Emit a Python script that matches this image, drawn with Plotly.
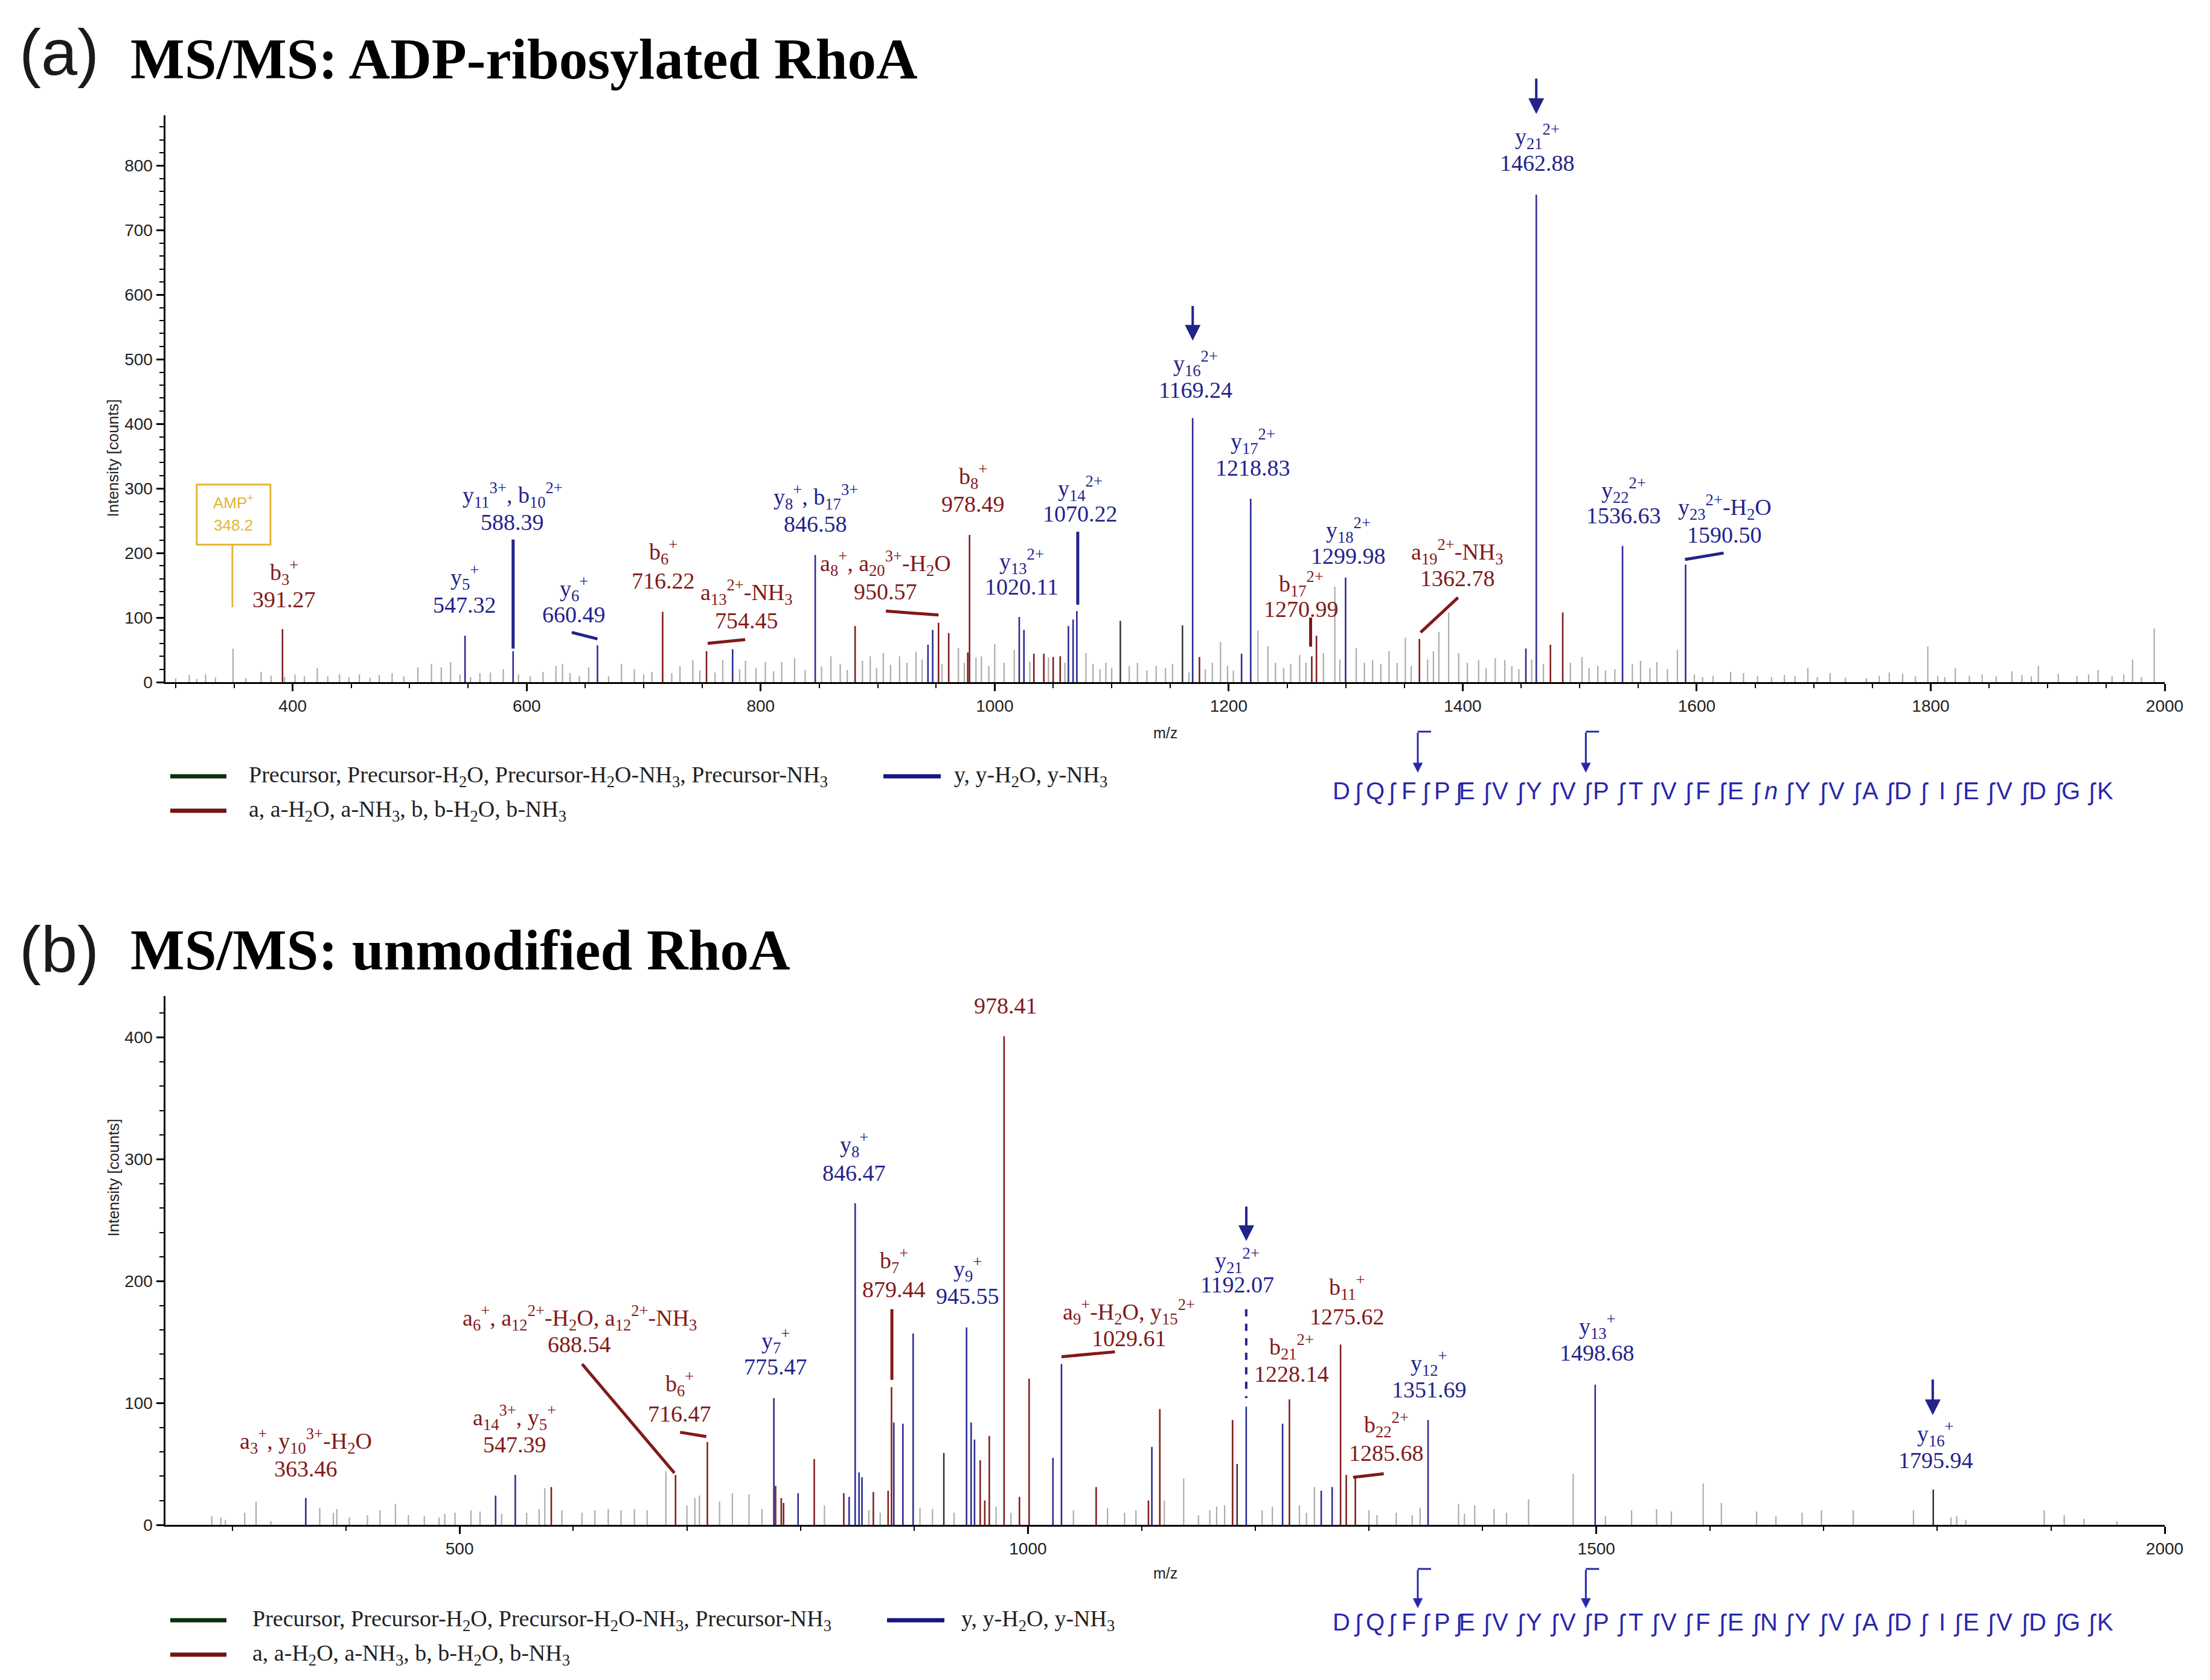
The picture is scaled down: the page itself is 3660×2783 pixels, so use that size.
import plotly.graph_objects as go

W, H = 3660, 2783
SERIF = "Liberation Serif, Times New Roman, serif"
SANS = "Liberation Sans, Arial, sans-serif"

BLUE_TXT = "rgb(35,35,140)"
RED_TXT = "rgb(130,25,25)"
BLUE_PK = "rgb(45,45,150)"
RED_PK = "rgb(130,30,30)"
GRAY_PK = "rgb(172,172,172)"
DARK_PK = "rgb(50,50,50)"
GOLD = "rgb(226,182,52)"
SEQ_BLUE = "rgb(40,40,170)"

# ---------------- Panel (a): ADP-ribosylated RhoA ----------------
a_gray_mz = [
    300, 311.6, 318, 325.6, 334, 349.0, 360, 373, 381.5, 393,
    402, 410, 421, 430, 440, 448, 457, 466, 474, 485,
    495, 507, 518.6, 527, 535, 543, 552, 560, 569, 580,
    593, 603, 614, 625, 630.6, 637, 645, 653, 670, 681,
    692, 700, 707, 724, 731, 742, 748, 761, 767.6, 782,
    787, 796, 804, 811, 818, 829, 838, 852, 860, 868,
    874, 887, 893.6, 899, 904.8, 911, 918.7, 925, 932.7, 938,
    955, 969, 974, 984, 988.7, 995, 1000, 1008, 1016.7, 1030,
    1046, 1060, 1078, 1084, 1090, 1095, 1100, 1115, 1122, 1130,
    1138, 1146, 1152, 1166, 1180, 1186, 1193, 1199, 1204, 1225,
    1233.5, 1240, 1247, 1253, 1260.7, 1266, 1281, 1290.7, 1295, 1309,
    1316, 1323, 1330, 1337, 1344, 1351, 1356, 1370, 1375, 1379.6,
    1388, 1396.6, 1404, 1413.6, 1420, 1427.8, 1436, 1442, 1448, 1459,
    1469, 1492, 1502, 1508, 1515.5, 1522, 1530, 1545, 1552, 1560,
    1566, 1575, 1583.5, 1598, 1605, 1614, 1629, 1640, 1652, 1664,
    1675, 1684, 1695, 1703, 1714, 1727, 1745, 1756, 1764.6, 1776,
    1787, 1797.5, 1806, 1812, 1821, 1833, 1844, 1856, 1869.4, 1878,
    1886, 1892, 1909, 1925, 1935, 1943, 1955, 1965, 1972.5, 1980,
    1991]
a_gray_int = [
    6, 11, 5, 12, 7, 52, 6, 16, 10, 8,
    12, 9, 22, 9, 12, 8, 12, 7, 11, 14,
    9, 23, 28, 23, 31, 12, 8, 14, 15, 20,
    12, 9, 16, 25, 28, 14, 10, 23, 9, 28,
    20, 12, 16, 14, 25, 34, 18, 15, 34, 20,
    33, 22, 31, 17, 31, 37, 19, 24, 40, 28,
    19, 33, 40, 22, 45, 27, 40, 30, 47, 35,
    28, 53, 30, 38, 40, 25, 59, 30, 50, 32,
    38, 30, 45, 28, 20, 30, 22, 25, 30, 18,
    25, 22, 28, 15, 20, 30, 62, 25, 18, 80,
    56, 30, 22, 28, 42, 30, 45, 148, 35, 53,
    30, 34, 28, 48, 30, 69, 25, 35, 48, 78,
    108, 45, 30, 34, 22, 37, 34, 25, 20, 35,
    28, 30, 39, 22, 25, 18, 20, 28, 33, 22,
    31, 20, 50, 12, 8, 10, 16, 14, 9, 8,
    11, 9, 22, 8, 14, 7, 6, 10, 15, 13,
    9, 55, 10, 8, 22, 10, 12, 9, 17, 11,
    9, 25, 13, 10, 12, 19, 9, 12, 35, 8,
    83]
a_blue_mz = [547.3, 588.4, 660.5, 776, 846.6, 943, 947, 1021, 1025, 1063,
             1067, 1070.2, 1169.2, 1211, 1218.8, 1299.9, 1454, 1462.9, 1536.6, 1590.5]
a_blue_int = [72, 48, 57, 51, 197, 58, 81, 101, 81, 87,
              97, 110, 409, 44, 284, 162, 52, 755, 211, 182]
a_red_mz = [391.3, 716.2, 753.7, 880.7, 952, 960.7, 977, 978.5, 1033.5, 1042,
            1050, 1056, 1175, 1271, 1275, 1363, 1475, 1485.5]
a_red_int = [82, 109, 48, 87, 92, 76, 46, 228, 44, 44,
             39, 40, 39, 40, 72, 67, 58, 108]
a_dark_mz = [1107.4, 1160.5]
a_dark_int = [95, 88]

a_ion = ["b<sub>3</sub><sup>+</sup>", "y<sub>5</sub><sup>+</sup>",
         "y<sub>11</sub><sup>3+</sup>, b<sub>10</sub><sup>2+</sup>", "y<sub>6</sub><sup>+</sup>",
         "b<sub>6</sub><sup>+</sup>", "a<sub>13</sub><sup>2+</sup>-NH<sub>3</sub>",
         "y<sub>8</sub><sup>+</sup>, b<sub>17</sub><sup>3+</sup>",
         "a<sub>8</sub><sup>+</sup>, a<sub>20</sub><sup>3+</sup>-H<sub>2</sub>O",
         "b<sub>8</sub><sup>+</sup>", "y<sub>13</sub><sup>2+</sup>", "y<sub>14</sub><sup>2+</sup>",
         "y<sub>16</sub><sup>2+</sup>", "y<sub>17</sub><sup>2+</sup>", "b<sub>17</sub><sup>2+</sup>",
         "y<sub>18</sub><sup>2+</sup>", "a<sub>19</sub><sup>2+</sup>-NH<sub>3</sub>",
         "y<sub>21</sub><sup>2+</sup>", "y<sub>22</sub><sup>2+</sup>",
         "y<sub>23</sub><sup>2+</sup>-H<sub>2</sub>O"]
a_val = ["391.27", "547.32", "588.39", "660.49", "716.22", "754.45", "846.58", "950.57",
         "978.49", "1020.11", "1070.22", "1169.24", "1218.83", "1270.99", "1299.98",
         "1362.78", "1462.88", "1536.63", "1590.50"]
a_kind = ["r", "b", "b", "b", "r", "r", "b", "r", "r", "b", "b", "b", "b", "r", "b", "r", "b", "b", "b"]
# label anchor placement (x, line-1 y, line-2 y)
a_lab_pos = [(392.7, 170, 128), (547, 163, 120), (588, 290, 248), (640.6, 145, 105),
             (717, 202, 157), (788, 139, 95), (847, 287, 245), (906.7, 184, 140),
             (981.5, 319, 276), (1023, 187, 148), (1073, 300, 261), (1171.5, 494, 453),
             (1220.6, 373, 332), (1262, 152, 113), (1302.5, 236, 195), (1395.6, 202, 161),
             (1464, 845, 804), (1537.8, 297, 258), (1624, 271, 228)]
a_leaders = [(588.4, 221, 588.4, 52, "b"), (638.5, 77, 660.5, 67, "b"),
             (754.7, 60, 786.7, 66, "r"), (907, 110, 952, 104, "r"),
             (1071, 233, 1071, 120, "b"), (1270, 100, 1270, 55, "r"),
             (1364, 77, 1396, 131, "r"), (1590, 190, 1623, 200, "b")]

# ---------------- Panel (b): unmodified RhoA ----------------
b_gray_mz = [
    282, 290, 294, 311, 321, 334, 377, 389, 392, 403,
    419, 430, 443.6, 455, 469, 482, 487, 496, 510, 518,
    537, 559, 570, 575, 590, 607.7, 619, 630.8, 642, 653.8,
    665, 681.5, 700, 707, 711, 728.7, 740, 754.6, 766, 821,
    860, 870, 905, 916, 935, 972, 985, 1040, 1070, 1085,
    1095, 1120, 1137, 1150, 1160, 1166, 1173, 1206, 1215, 1238.8,
    1245, 1252, 1300, 1307, 1324, 1338, 1345, 1378.8, 1384, 1393,
    1410, 1421, 1440.4, 1479.6, 1508, 1531, 1553, 1566, 1594, 1610,
    1641, 1658, 1681, 1698, 1726, 1779, 1812, 1817, 1825, 1894,
    1911.6, 1929, 1958]
b_gray_int = [
    7, 6, 4, 10, 19, 3, 14, 10, 13, 6,
    8, 12, 17, 8, 7, 6, 9, 10, 12, 11,
    9, 10, 13, 30, 12, 10, 12, 13, 12, 13,
    12, 44, 16, 22, 24, 19, 26, 25, 13, 16,
    12, 10, 14, 13, 10, 15, 10, 12, 14, 10,
    12, 20, 38, 8, 12, 15, 16, 12, 15, 16,
    10, 31, 12, 8, 10, 8, 14, 17, 9, 16,
    13, 10, 21, 42, 7, 12, 13, 11, 34, 18,
    11, 7, 10, 12, 12, 12, 6, 7, 4, 12,
    8, 5, 3]
b_blue_mz = [364.7, 531.7, 549, 776.5, 797.8, 842.7, 848, 851.4, 854, 882,
             890, 899, 946, 950, 953, 1022, 1029.5, 1109, 1192, 1224,
             1258, 1267.6, 1352, 1499]
b_blue_int = [22, 24, 41, 104, 26, 23, 264, 43, 39, 84,
              83, 157, 162, 84, 70, 55, 132, 64, 97, 83,
              28, 31, 86, 115]
b_red_mz = [580.7, 690, 718, 778, 783, 785, 812, 838, 864, 877,
            880, 958, 962, 966, 979, 992.5, 1001, 1060, 1106, 1116,
            1180, 1230, 1275, 1280, 1288]
b_red_int = [31, 41, 68, 32, 22, 18, 54, 26, 27, 28,
             113, 53, 20, 73, 401, 23, 120, 31, 20, 95,
             86, 103, 148, 41, 39]
b_dark_mz = [926, 1184, 1796.4]
b_dark_int = [59, 50, 29]

b_ion = ["a<sub>3</sub><sup>+</sup>, y<sub>10</sub><sup>3+</sup>-H<sub>2</sub>O",
         "a<sub>14</sub><sup>3+</sup>, y<sub>5</sub><sup>+</sup>",
         "a<sub>6</sub><sup>+</sup>, a<sub>12</sub><sup>2+</sup>-H<sub>2</sub>O, a<sub>12</sub><sup>2+</sup>-NH<sub>3</sub>",
         "b<sub>6</sub><sup>+</sup>", "y<sub>7</sub><sup>+</sup>", "y<sub>8</sub><sup>+</sup>",
         "b<sub>7</sub><sup>+</sup>", "y<sub>9</sub><sup>+</sup>", "",
         "a<sub>9</sub><sup>+</sup>-H<sub>2</sub>O, y<sub>15</sub><sup>2+</sup>",
         "y<sub>21</sub><sup>2+</sup>", "b<sub>21</sub><sup>2+</sup>", "b<sub>11</sub><sup>+</sup>",
         "b<sub>22</sub><sup>2+</sup>", "y<sub>12</sub><sup>+</sup>", "y<sub>13</sub><sup>+</sup>",
         "y<sub>16</sub><sup>+</sup>"]
b_val = ["363.46", "547.39", "688.54", "716.47", "775.47", "846.47", "879.44", "945.55",
         "978.41", "1029.61", "1192.07", "1228.14", "1275.62", "1285.68", "1351.69",
         "1498.68", "1795.94"]
b_kind = ["r", "r", "r", "r", "b", "b", "r", "b", "r", "r", "b", "r", "r", "r", "b", "b", "b"]
b_lab_pos = [(364.5, 69, 46), (548.4, 88, 66), (605.6, 170, 148), (693.6, 116, 91),
             (777.8, 151, 130), (846.9, 312, 289), (882, 217, 193), (946.8, 210, 188),
             (980.2, None, 426), (1088.9, 175, 153), (1184, 217, 197), (1232, 146, 124),
             (1281, 195, 171), (1315.4, 82, 59), (1352.8, 133, 111), (1500.9, 163, 141),
             (1798.6, 75, 53)]
b_leaders = [(607.8, 132, 689, 42.5, "r"), (694, 76, 717, 72.5, "r"),
             (880.3, 177, 880.3, 119, "r"), (1029.5, 138, 1076.5, 142, "r"),
             (1192, 177, 1192, 104, "bd"), (1286, 39, 1313, 42, "r")]

SEQ_A = ["D", "Q", "F", "P", "E", "V", "Y", "V", "P", "T", "V", "F", "E", "<i>n</i>",
         "Y", "V", "A", "D", "I", "E", "V", "D", "G", "K"]
SEQ_B = ["D", "Q", "F", "P", "E", "V", "Y", "V", "P", "T", "V", "F", "E", "N",
         "Y", "V", "A", "D", "I", "E", "V", "D", "G", "K"]
CLEAVE_ARROWS = [3, 8]

LEG_PREC = "Precursor, Precursor-H<sub>2</sub>O, Precursor-H<sub>2</sub>O-NH<sub>3</sub>, Precursor-NH<sub>3</sub>"
LEG_Y = "y, y-H<sub>2</sub>O, y-NH<sub>3</sub>"
LEG_AB = "a, a-H<sub>2</sub>O, a-NH<sub>3</sub>, b, b-H<sub>2</sub>O, b-NH<sub>3</sub>"

# ---------------- layout geometry ----------------
XD = [273.5 / W, 3585 / W]
YA = [1 - 1130 / H, 1 - 191 / H]
YB = [1 - 2526 / H, 1 - 1650 / H]
XR_A, XR_B = [291, 2000], [241, 2000]
YR_A, YR_B = [0, 878], [0, 434]
LABEL_SIZE = 38


def px(p):
    return p / W


def py(p):
    return 1 - p / H


def stems(mz, inten):
    xs, ys = [], []
    for m, v in zip(mz, inten):
        xs += [m, m, None]
        ys += [0, v, None]
    return xs, ys


fig = go.Figure()
for xa, ya, groups in [
    ("x", "y", [(a_gray_mz, a_gray_int, GRAY_PK, 2.2), (a_dark_mz, a_dark_int, DARK_PK, 2.5),
                (a_red_mz, a_red_int, RED_PK, 2.6), (a_blue_mz, a_blue_int, BLUE_PK, 2.6)]),
    ("x2", "y2", [(b_gray_mz, b_gray_int, GRAY_PK, 2.2), (b_dark_mz, b_dark_int, DARK_PK, 2.5),
                  (b_red_mz, b_red_int, RED_PK, 2.6), (b_blue_mz, b_blue_int, BLUE_PK, 2.6)]),
]:
    for mz, it, col, wd in groups:
        xs, ys = stems(mz, it)
        fig.add_trace(go.Scatter(x=xs, y=ys, mode="lines", line=dict(color=col, width=wd),
                                 xaxis=xa, yaxis=ya, hoverinfo="skip", showlegend=False))

annotations = []
shapes = []


def label(xref, yref, x, y, text, color):
    annotations.append(dict(x=x, y=y, xref=xref, yref=yref, text=text, showarrow=False,
                            xanchor="center", yanchor="middle",
                            font=dict(family=SERIF, size=LABEL_SIZE, color=color)))


for ions, vals, kinds, pos, xr, yr in [(a_ion, a_val, a_kind, a_lab_pos, "x", "y"),
                                       (b_ion, b_val, b_kind, b_lab_pos, "x2", "y2")]:
    for ion, val, k, (x, y1, y2) in zip(ions, vals, kinds, pos):
        col = BLUE_TXT if k == "b" else RED_TXT
        if ion and y1 is not None:
            label(xr, yr, x, y1, ion, col)
        label(xr, yr, x, y2, val, col)

for leaders, xr, yr in [(a_leaders, "x", "y"), (b_leaders, "x2", "y2")]:
    for x0, y0, x1, y1, k in leaders:
        col = BLUE_TXT if k.startswith("b") else RED_TXT
        shapes.append(dict(type="line", xref=xr, yref=yr, x0=x0, y0=y0, x1=x1, y1=y1,
                           line=dict(color=col, width=5 if k != "bd" else 4,
                                     dash="dash" if k == "bd" else "solid")))

# AMP box (panel a)
shapes.append(dict(type="rect", xref="x", yref="y", x0=318, x1=381, y0=213, y1=306,
                   line=dict(color=GOLD, width=3), fillcolor="white"))
shapes.append(dict(type="line", xref="x", yref="y", x0=348.5, x1=348.5, y0=213, y1=116,
                   line=dict(color=GOLD, width=3)))
annotations.append(dict(x=349.5, y=279, xref="x", yref="y", text="AMP<sup>+</sup>", showarrow=False,
                        font=dict(family=SANS, size=26, color=GOLD)))
annotations.append(dict(x=349.5, y=243, xref="x", yref="y", text="348.2", showarrow=False,
                        font=dict(family=SANS, size=26, color=GOLD)))


def arrow(xref, yref, x, y_tip, y_tail):
    annotations.append(dict(x=x, y=y_tip, ax=x, ay=y_tail, xref=xref, yref=yref, axref=xref,
                            ayref=yref, text="", showarrow=True, arrowhead=2, arrowsize=1.3,
                            arrowwidth=4, arrowcolor=BLUE_TXT, standoff=0))


arrow("x", "y", 1169.24, 529, 584)
arrow("x2", "y2", 1192.07, 233, 262)
arrow("x2", "y2", 1795.94, 90, 120)
# arrow above the top of panel (a)
tip_a = YA[0] + 880 / YR_A[1] * (YA[1] - YA[0])
annotations.append(dict(x=1462.88, y=tip_a, xref="x", yref="paper", ax=0, ay=-60,
                        axref="pixel", ayref="pixel", text="", showarrow=True, arrowhead=2,
                        arrowsize=1.3, arrowwidth=4, arrowcolor=BLUE_TXT, standoff=0))

# titles
for ttl, sub, ymid_par, ymid_t in [("(a)", "MS/MS: ADP-ribosylated RhoA", 86, 98),
                                   ("(b)", "MS/MS: unmodified RhoA", 1572, 1574)]:
    annotations.append(dict(x=px(30), y=py(ymid_par), xref="paper", yref="paper", text=ttl,
                            showarrow=False, xanchor="left", yanchor="middle",
                            font=dict(family=SANS, size=108, color="#1a1a1a")))
    annotations.append(dict(x=px(214), y=py(ymid_t), xref="paper", yref="paper",
                            text="<b>" + sub + "</b>", showarrow=False, xanchor="left",
                            yanchor="middle", font=dict(family=SERIF, size=95, color="black")))

# axis titles
for yc in (660, 2051):
    annotations.append(dict(x=px(170), y=py(yc), xref="paper", yref="paper",
                            text="Intensity [counts]", textangle=-90, showarrow=False,
                            font=dict(family=SANS, size=26, color="#222")))
for yc in (1214, 2622):
    annotations.append(dict(x=px(1930), y=py(yc), xref="paper", yref="paper", text="m/z",
                            showarrow=False, font=dict(family=SANS, size=25, color="#222")))

# legends
for y1, y2, tx1, tx2 in [(1286, 1343, 410, 1578), (2684, 2741, 416, 1590)]:
    for (x0, x1, yy, col) in [(282, 375, y1, "rgb(12,48,12)"), (tx1 + 1053, tx1 + 1148, y1, "rgb(22,22,130)"),
                              (282, 375, y2, "rgb(118,18,18)")]:
        shapes.append(dict(type="line", xref="paper", yref="paper", x0=px(x0), x1=px(x1),
                           y0=py(yy), y1=py(yy), line=dict(color=col, width=7)))
    for txt, xx, yy in [(LEG_PREC, tx1, y1), (LEG_Y, tx2, y1), (LEG_AB, tx1, y2)]:
        annotations.append(dict(x=px(xx), y=py(yy), xref="paper", yref="paper", text=txt,
                                showarrow=False, xanchor="left", yanchor="middle",
                                font=dict(family=SERIF, size=38, color="#222")))

# peptide sequences with cleavage marks
SEQ_L, SEQ_R = 2194, 3530
step = (SEQ_R - SEQ_L) / 24
for seq, yc, ytop, ybot in [(SEQ_A, 1310, 1212, 1280), (SEQ_B, 2711, 2599, 2664)]:
    for i, r in enumerate(seq):
        annotations.append(dict(x=px(SEQ_L + (i + 0.5) * step), y=py(yc), xref="paper",
                                yref="paper", text=r, showarrow=False,
                                font=dict(family=SANS, size=40, color=SEQ_BLUE)))
        if i < len(seq) - 1:
            annotations.append(dict(x=px(SEQ_L + (i + 1) * step), y=py(yc + 2), xref="paper",
                                    yref="paper", text="ʃ", showarrow=False,
                                    font=dict(family=SANS, size=40, color=SEQ_BLUE)))
    for k in CLEAVE_ARROWS:
        xa_ = SEQ_L + k * step - 13
        annotations.append(dict(x=px(xa_), y=py(ybot), xref="paper", yref="paper", ax=0,
                                ay=-(ybot - ytop), axref="pixel", ayref="pixel", text="",
                                showarrow=True, arrowhead=2, arrowsize=1.1, arrowwidth=3,
                                arrowcolor=SEQ_BLUE, standoff=0))
        shapes.append(dict(type="line", xref="paper", yref="paper", x0=px(xa_), x1=px(xa_ + 22),
                           y0=py(ytop), y1=py(ytop), line=dict(color=SEQ_BLUE, width=3)))

axis_common = dict(showline=True, linecolor="black", linewidth=3, showgrid=False, zeroline=False,
                   ticks="outside", ticklen=12, tickwidth=2.5, tickcolor="black",
                   tickfont=dict(family=SANS, size=28, color="#222"))

fig.update_layout(
    template="none",
    width=W, height=H,
    margin=dict(l=0, r=0, t=0, b=0),
    paper_bgcolor="white", plot_bgcolor="white",
    showlegend=False,
    xaxis=dict(domain=XD, range=XR_A, anchor="y", tick0=0, dtick=200,
               minor=dict(dtick=50, ticklen=7, ticks="outside", tickwidth=2, tickcolor="black"),
               **axis_common),
    yaxis=dict(domain=YA, range=YR_A, anchor="x", tick0=0, dtick=100,
               minor=dict(dtick=20, ticklen=7, ticks="outside", tickwidth=2, tickcolor="black"),
               **axis_common),
    xaxis2=dict(domain=XD, range=XR_B, anchor="y2", tick0=0, dtick=500,
                minor=dict(dtick=100, ticklen=7, ticks="outside", tickwidth=2, tickcolor="black"),
                **axis_common),
    yaxis2=dict(domain=YB, range=YR_B, anchor="x2", tick0=0, dtick=100,
                minor=dict(dtick=20, ticklen=7, ticks="outside", tickwidth=2, tickcolor="black"),
                **axis_common),
    annotations=annotations,
    shapes=shapes,
)

fig.write_html("out.html", config={"displayModeBar": False},
               post_script="document.body.style.margin='0';document.body.style.overflow='hidden';")
